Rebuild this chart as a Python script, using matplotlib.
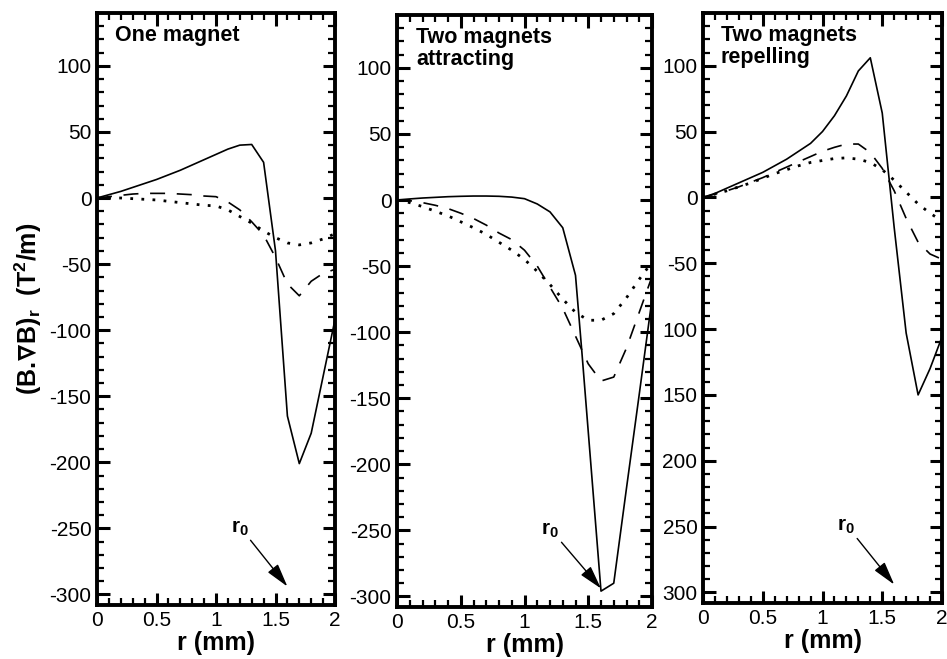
import matplotlib
matplotlib.use("Agg")
import matplotlib.pyplot as plt
from matplotlib.ticker import MultipleLocator

plt.rcParams['font.family'] = ['Liberation Sans', 'DejaVu Sans']
plt.rcParams['mathtext.fontset'] = 'custom'
plt.rcParams['mathtext.rm'] = 'Liberation Sans'
plt.rcParams['mathtext.bf'] = 'Liberation Sans:bold'
plt.rcParams['mathtext.default'] = 'bf'
plt.rcParams['mathtext.fallback'] = 'stixsans'

# radial positions (mm)
r = [0.0, 0.1, 0.2, 0.3, 0.4, 0.5, 0.6, 0.7, 0.8, 0.9, 1.0,
     1.1, 1.2, 1.3, 1.4, 1.5, 1.6, 1.7, 1.8, 1.9, 2.0]
r_attr_solid = [0.0, 0.1, 0.2, 0.3, 0.4, 0.5, 0.6, 0.7, 0.8, 0.9, 1.0,
                1.1, 1.2, 1.3, 1.4, 1.45, 1.6, 1.7, 1.8, 1.9, 2.0]

# One magnet
one_solid = [0, 2.5, 5, 8, 11, 14, 17.5, 21, 25, 29, 33,
             37, 40, 40.5, 27, -40, -165, -201, -178, -135, -92]
one_dashed = [0, 1, 2, 3, 3.5, 3.5, 3.5, 3, 2.5, 1.5, 1,
              -3, -9, -18, -28, -45, -65, -74, -63, -57, -54]
one_dotted = [0, 0, 0, -0.5, -1, -1.5, -2.5, -3.5, -4.5, -5.5, -6,
              -9, -14, -19, -25, -30, -34, -35.5, -34, -31, -27]

# Two magnets attracting
attr_solid = [0, 0.8, 1.5, 2, 2.5, 2.8, 3, 3, 2.8, 2.2, 1,
              -3, -9, -21, -57, -115, -296, -290, -218, -147, -75]
attr_dashed = [0, -0.5, -2, -4, -6.5, -10, -14, -19, -25, -30, -38,
               -50, -66, -82, -103, -124, -137, -134, -112, -85, -58]
attr_dotted = [0, -2, -5, -8.5, -12, -16.5, -21, -26, -32, -38, -45,
               -54, -64, -75, -85, -91, -91, -86, -74, -60, -47]

# Two magnets repelling
rep_solid = [0, 3, 7, 11, 15, 19, 24, 29, 35, 41, 50,
             62, 77, 96, 106, 64, -23, -103, -150, -130, -106]
rep_dashed = [0, 2.5, 5, 8, 11.5, 15, 19, 23, 27, 31, 35,
              38, 40.5, 40.5, 34, 22, 5, -16, -34, -43, -47]
rep_dotted = [0, 2.5, 5, 8, 11, 14.5, 18, 21, 24, 26.5, 28,
              29.5, 30, 29, 26.5, 21, 13, 4, -5, -12, -18]

titles = ["One magnet", "Two magnets\nattracting", "Two magnets\nrepelling"]
x_ticks = [0, 0.5, 1, 1.5, 2]
x_tick_labels = ["0", "0.5", "1", "1.5", "2"]
y_ticks = [-300, -250, -200, -150, -100, -50, 0, 50, 100]
y_tick_labels = ["-300", "-250", "-200", "-150", "-100", "-50", "0", "50", "100"]
# minus signs of the 3-digit labels are hidden behind the middle panel
y_tick_labels_right = ["300", "250", "200", "150", "100", "-50", "0", "50", "100"]

panels = [
    (r, one_solid, r, one_dashed, r, one_dotted),
    (r_attr_solid, attr_solid, r, attr_dashed, r, attr_dotted),
    (r, rep_solid, r, rep_dashed, r, rep_dotted),
]

W, H = 947, 659
# axes boxes in pixels: left, top, right, bottom
boxes = [(97, 13, 335, 605), (397, 15, 652, 607), (703, 13, 942, 603)]

fig = plt.figure(figsize=(W / 100, H / 100), dpi=100)

for i, (box, data) in enumerate(zip(boxes, panels)):
    l, t, rr, b = box
    ax = fig.add_axes([l / W, 1 - b / H, (rr - l) / W, (b - t) / H])
    xs, ys, xd, yd, xo, yo = data
    ax.plot(xs, ys, color='black', lw=1.2)
    ax.plot(xd, yd, color='black', lw=1.2, linestyle=(0, (9, 7)))
    ax.plot(xo, yo, color='black', lw=2.0, linestyle=(0, (1, 3)))

    ax.set_xlim(0, 2)
    ax.set_ylim(-308, 140)
    ax.set_xticks(x_ticks)
    ax.set_xticklabels(x_tick_labels)
    ax.set_yticks(y_ticks)
    ax.set_yticklabels(y_tick_labels_right if i == 2 else y_tick_labels)
    ax.xaxis.set_minor_locator(MultipleLocator(0.1))
    ax.yaxis.set_minor_locator(MultipleLocator(10))
    ax.tick_params(which='both', direction='in', top=True, right=True,
                   labelsize=15)
    ax.tick_params(which='major', length=9, width=2.2, pad=4)
    ax.tick_params(which='minor', length=5, width=1.6)
    for s in ax.spines.values():
        s.set_linewidth(2.8)

    ax.text(0.075, 0.98, titles[i], transform=ax.transAxes, ha='left',
            va='top', fontsize=15.5, fontweight='bold', linespacing=1.05)
    ax.set_xlabel("r (mm)", fontsize=18, fontweight='bold', labelpad=1)

    ax.annotate('', xy=(1.6, -294), xytext=(1.29, -259),
                arrowprops=dict(arrowstyle='-|>,head_length=0.8,head_width=0.22',
                                color='black', lw=1.0, mutation_scale=18,
                                shrinkA=0, shrinkB=0))
    ax.text(1.2, -250, r'r$_\mathbf{0}$', ha='center', va='center',
            fontsize=15, fontweight='bold')

    if i == 0:
        ax.set_ylabel(r"(B.$\nabla$B)$_\mathbf{r}$  (T$^\mathbf{2}$/m)",
                      fontsize=18, fontweight='bold', labelpad=4)

fig.savefig("out.png", dpi=100)
